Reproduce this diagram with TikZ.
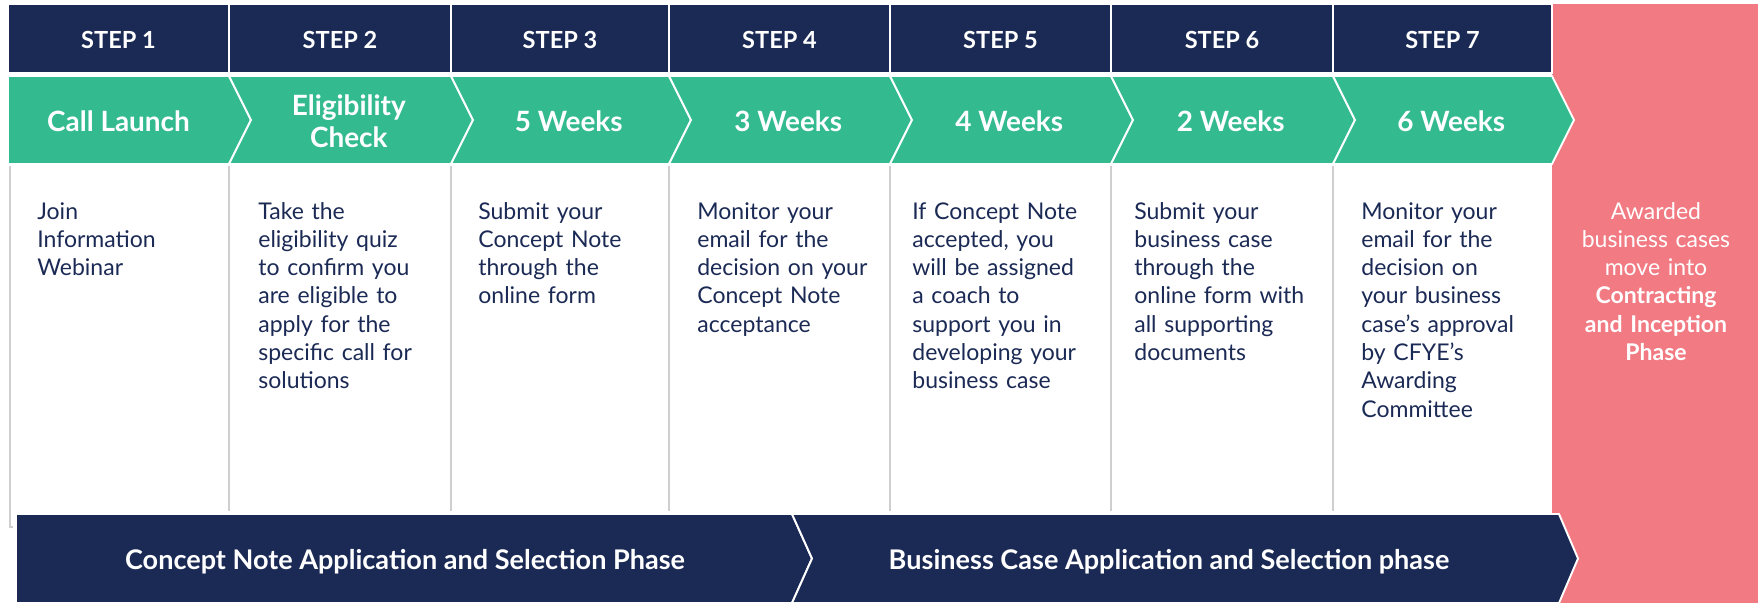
\documentclass[tikz,border=0pt]{standalone}
\usepackage{fontspec}
\setmainfont{Lato}
\definecolor{navy}{HTML}{1B2A55}
\definecolor{mint}{HTML}{34BA8F}
\definecolor{coral}{HTML}{F27A82}
\definecolor{rulegray}{HTML}{CFCFCF}

\begin{document}
\begin{tikzpicture}[
    x=0.02cm, y=-0.02cm,
    % Define header style
    header/.style={text=white, font=\fontsize{13.4}{16}\selectfont\bfseries, anchor=base},
    % Define duration style
    duration/.style={text=white, font=\fontsize{15.9}{18.2}\selectfont\bfseries, align=center, anchor=base},
    % Define task text style
    task/.style={text=navy, font=\fontsize{13.1}{16.1}\selectfont, text width=3.8cm, align=left, inner sep=0pt, anchor=base west},
    % Define award text style
    award/.style={text=white, font=\fontsize{13.1}{16.1}\selectfont, text width=4.1cm, align=center, inner sep=0pt, anchor=base},
    % Define phase style
    phase/.style={text=white, font=\fontsize{15.4}{18}\selectfont\bfseries, anchor=base},
    % Define outline and rule styles
    outline/.style={draw=white, line width=1.1pt, line join=miter},
    rule/.style={draw=rulegray, line width=0.8pt}
]

    \useasboundingbox (0,0) rectangle (1758,603);

    % Award column
    \fill[coral] (1552,4) rectangle (1758,603);

    % Step headers
    \foreach \l/\r/\n in {8/229/1, 229/451/2, 451/669/3, 669/890/4, 890/1111/5, 1111/1333/6, 1333/1552/7} {
        \filldraw[fill=navy, outline] (\l,4) rectangle (\r,73);
        \node[header] (step\n) at ({(\l+\r)/2},48) {STEP \n};
    }

    % Column rules
    \foreach \x in {229, 451, 669, 890, 1111, 1333}
        \draw[rule] (\x,166) -- (\x,511);
    \draw[rule] (13,527) -- (10,527) -- (10,166);

    % Duration chevrons
    \foreach \l/\r/\d/\n/\y/\txt in {8/229/0/1/131/{Call Launch}, 229/451/22/2/147/{Eligibility\\Check}, 451/669/22/3/131/{5 Weeks}, 669/890/22/4/131/{3 Weeks}, 890/1111/22/5/131/{4 Weeks}, 1111/1333/22/6/131/{2 Weeks}, 1333/1552/22/7/131/{6 Weeks}} {
        \filldraw[fill=mint, outline] (\l,76) -- (\r,76) -- (\r+22,120) -- (\r,164) -- (\l,164) -- (\l+\d,120) -- cycle;
        \node[duration] (dur\n) at ({(\l+\r)/2+0.4*\d},\y) {\txt};
    }

    % Task descriptions
    \node[task] (task1) at (37,219) {Join\\Information\\Webinar};
    \node[task] (task2) at (258,219) {Take the\\eligibility quiz\\to confirm you\\are eligible to\\apply for the\\specific call for\\solutions};
    \node[task] (task3) at (478,219) {Submit your\\Concept Note\\through the\\online form};
    \node[task] (task4) at (697,219) {Monitor your\\email for the\\decision on your\\Concept Note\\acceptance};
    \node[task] (task5) at (912,219) {If Concept Note\\accepted, you\\will be assigned\\a coach to\\support you in\\developing your\\business case};
    \node[task] (task6) at (1134,219) {Submit your\\business case\\through the\\online form with\\all supporting\\documents};
    \node[task] (task7) at (1361,219) {Monitor your\\email for the\\decision on\\your business\\case’s approval\\by CFYE’s\\Awarding\\Committee};
    \node[award] (award) at (1656,219) {Awarded\\business cases\\move into\\\textbf{Contracting}\\\textbf{and Inception}\\\textbf{Phase}};

    % Phase bands
    \filldraw[fill=navy, outline] (16,514) -- (792,514) -- (812,558.5) -- (792,603) -- (16,603) -- cycle;
    \filldraw[fill=navy, outline] (792,514) -- (1559,514) -- (1578,558.5) -- (1559,603) -- (792,603) -- (812,558.5) -- cycle;
    \node[phase] (phase1) at (405,569) {Concept Note Application and Selection Phase};
    \node[phase] (phase2) at (1169,569) {Business Case Application and Selection phase};

\end{tikzpicture}
\end{document}
